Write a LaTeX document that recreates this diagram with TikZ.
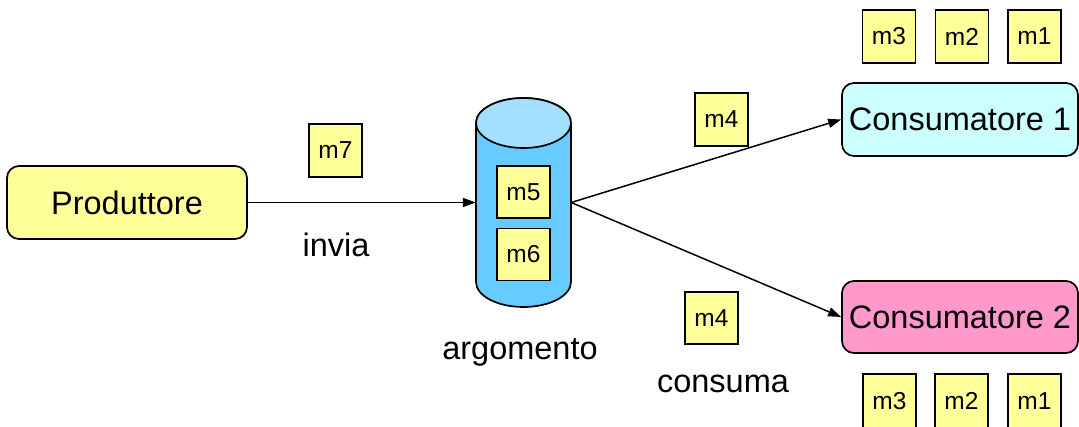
\documentclass[tikz,border=0pt]{standalone}
\usepackage{fontspec}
\setmainfont{Liberation Sans}
\usetikzlibrary{arrows.meta}
\definecolor{msgyellow}{HTML}{FFFF99}
\definecolor{consblue}{HTML}{CCFFFF}
\definecolor{conspink}{HTML}{FF99CC}
\definecolor{cylbody}{HTML}{66CCFF}
\definecolor{cyltop}{HTML}{A3E0FF}
\tikzset{
  actor/.style={draw=black, line width=1.7pt, rounded corners=12pt,
    minimum width=236pt, minimum height=73pt, inner sep=0pt,
    font=\fontsize{32.5}{36}\selectfont},
  msg/.style={draw=black, fill=msgyellow, line width=1.7pt,
    minimum width=53pt, minimum height=53pt, inner sep=0pt,
    font=\fontsize{24.5}{28}\selectfont},
  lbl/.style={inner sep=0pt, anchor=base, font=\fontsize{32.5}{36}\selectfont},
  flow/.style={line width=1.5pt, -{Triangle[length=13pt,width=9pt]}}
}
\begin{document}
\begin{tikzpicture}[x=1pt,y=-1pt]
\useasboundingbox (0,0) rectangle (1079,427);

% producer
\node[actor, fill=msgyellow, minimum width=240pt] (prod) at (127,202.5) {Produttore};
\node[msg] (m7) at (335.5,150.5) {m7};
\node[lbl] (invia) at (336,257) {invia};

% topic drawn as a cylinder (y axis points down here)
\draw[line width=1.7pt, fill=cylbody]
  (476,123) -- (476,282) arc[start angle=180, end angle=0, x radius=47.5, y radius=25]
  -- (571,123) arc[start angle=0, end angle=-180, x radius=47.5, y radius=25] -- cycle;
\draw[line width=1.7pt, fill=cyltop] (523.5,123) ellipse[x radius=47.5, y radius=25];
\node[minimum width=95pt, minimum height=2pt, inner sep=0pt] (topic) at (523.5,202.5) {};
\node[msg, minimum height=52pt] (m5) at (523.5,192) {m5};
\node[msg, minimum height=52pt] (m6) at (523.5,254.5) {m6};
\node[lbl] (argomento) at (520,360) {argomento};

% consumers
\node[actor, fill=consblue] (cons1) at (960,119.5) {Consumatore 1};
\node[actor, fill=conspink, minimum height=72pt] (cons2) at (960,317) {Consumatore 2};

\node[msg] (c1m3) at (889,36.5) {m3};
\node[msg] (c1m2) at (962,36.5) {m2};
\node[msg] (c1m1) at (1034.5,36.5) {m1};

\node[msg, minimum height=54pt] (c2m3) at (889.5,401) {m3};
\node[msg, minimum height=54pt] (c2m2) at (961.5,401) {m2};
\node[msg, minimum height=54pt] (c2m1) at (1034.5,401) {m1};

\node[msg] (m4a) at (721.5,119.5) {m4};
\node[msg, minimum height=52pt] (m4b) at (711.5,318) {m4};
\node[lbl] (consuma) at (723,392) {consuma};

% connectors
\draw[flow] (prod.east) -- (topic.west);
\draw[flow] (topic.east) -- (cons1.west);
\draw[flow] (topic.east) -- (cons2.west);
\end{tikzpicture}
\end{document}
